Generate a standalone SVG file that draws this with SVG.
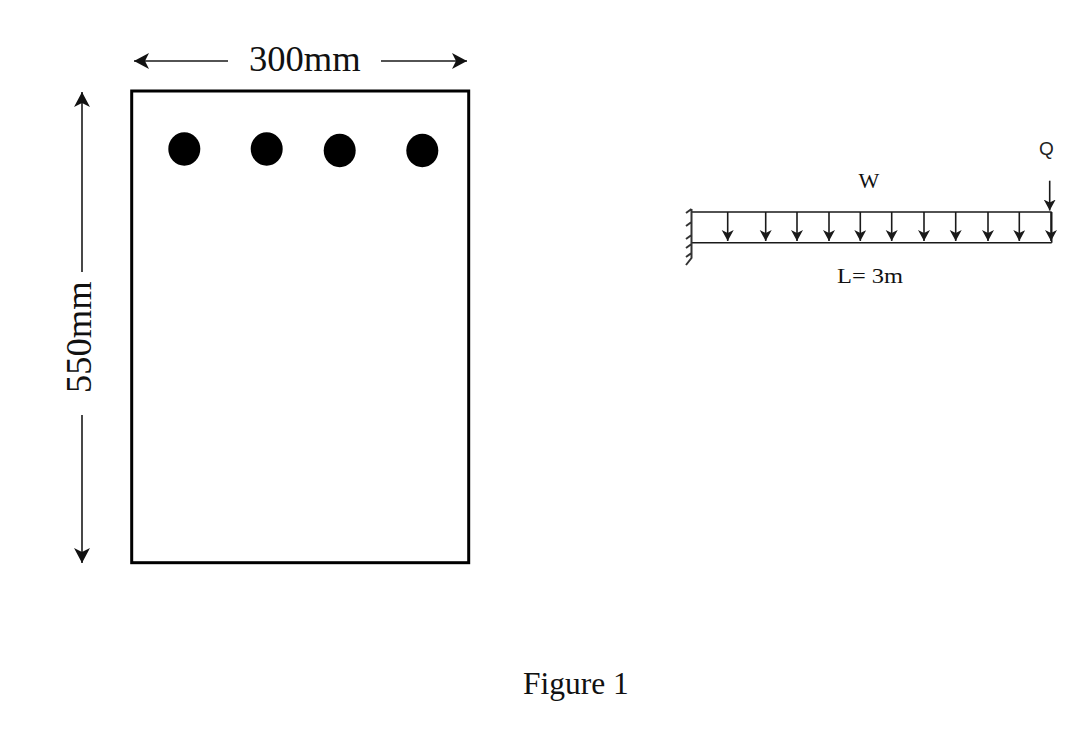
<svg xmlns="http://www.w3.org/2000/svg" width="1086" height="736" viewBox="0 0 1086 736">
<style>
.t{font-family:"Liberation Serif","Times New Roman",serif;fill:#111}
.l{stroke:#1a1a1a;fill:none}
.d{stroke-width:1.6}
.b{stroke-width:1.6}
.h{stroke-width:2;stroke:#333;fill:none}
</style>
<defs>
<marker id="big" markerUnits="userSpaceOnUse" markerWidth="18" markerHeight="18" refX="15" refY="8" orient="auto"><path d="M0 0 L15 8 L0 16 L4 8 Z" fill="#111"/></marker>
<marker id="small" markerUnits="userSpaceOnUse" markerWidth="13" markerHeight="13" refX="11" refY="6" orient="auto"><path d="M0 0 L11 6 L0 12 L3 6 Z" fill="#1a1a1a"/></marker>
</defs>
<rect width="1086" height="736" fill="#fff"/>
<g id="section">
<rect x="131.7" y="91" width="337" height="471.7" fill="#fff" stroke="#000" stroke-width="3"/>
</g>
<g id="bars" fill="#000">
<ellipse id="bar1" cx="184.3" cy="149" rx="16" ry="16.7"/>
<ellipse id="bar2" cx="266.7" cy="149" rx="16" ry="16.7"/>
<ellipse id="bar3" cx="339.7" cy="150.5" rx="16" ry="16.7"/>
<ellipse id="bar4" cx="422.3" cy="150.5" rx="16" ry="16.7"/>
</g>
<g id="connectors">
<path class="l d" marker-end="url(#big)" d="M228 61H134"/>
<path class="l d" marker-end="url(#big)" d="M381 61H467"/>
<path class="l d" marker-end="url(#big)" d="M82 272V92"/>
<path class="l d" marker-end="url(#big)" d="M82 415V563"/>
</g>
<g id="dim-labels">
<text class="t" x="249" y="70.5" font-size="36.6">300mm</text>
<text class="t" font-size="36.6" transform="translate(90.7 393) rotate(-90)">550mm</text>
</g>
<g id="beam">
<path class="l b" d="M691.7 212H1051.7M691.7 242.7H1051.7M1051.7 212V242.7"/>
</g>
<g id="wall">
<path class="h" d="M691.5 209V258L686 265M691.5 209L686 213M691.5 222L686 226M691.5 235L686 239M691.5 244L686 248M691.5 253L686 257"/>
</g>
<g id="load-arrows">
<path class="l b" marker-end="url(#small)" d="M727.7 212V241"/>
<path class="l b" marker-end="url(#small)" d="M765.7 212V241"/>
<path class="l b" marker-end="url(#small)" d="M797 212V241"/>
<path class="l b" marker-end="url(#small)" d="M829 212V241"/>
<path class="l b" marker-end="url(#small)" d="M860.3 212V241"/>
<path class="l b" marker-end="url(#small)" d="M891.7 212V241"/>
<path class="l b" marker-end="url(#small)" d="M924 212V241"/>
<path class="l b" marker-end="url(#small)" d="M955.7 212V241"/>
<path class="l b" marker-end="url(#small)" d="M988 212V241"/>
<path class="l b" marker-end="url(#small)" d="M1019.3 212V241"/>
<path class="l b" marker-end="url(#small)" d="M1051 212V241"/>
<path class="l b" marker-end="url(#small)" d="M1049.7 180.7V210.5"/>
</g>
<g id="beam-labels">
<text class="t" x="869" y="188" font-size="22" text-anchor="middle">W</text>
<text x="1046.5" y="155" font-size="19" text-anchor="middle" font-family="'Liberation Sans',Arial,sans-serif" fill="#222">Q</text>
<text class="t" x="837" y="283" font-size="21" textLength="66" lengthAdjust="spacingAndGlyphs">L= 3m</text>
</g>
<g id="caption">
<text class="t" x="523" y="694" font-size="31.5">Figure 1</text>
</g>
</svg>
